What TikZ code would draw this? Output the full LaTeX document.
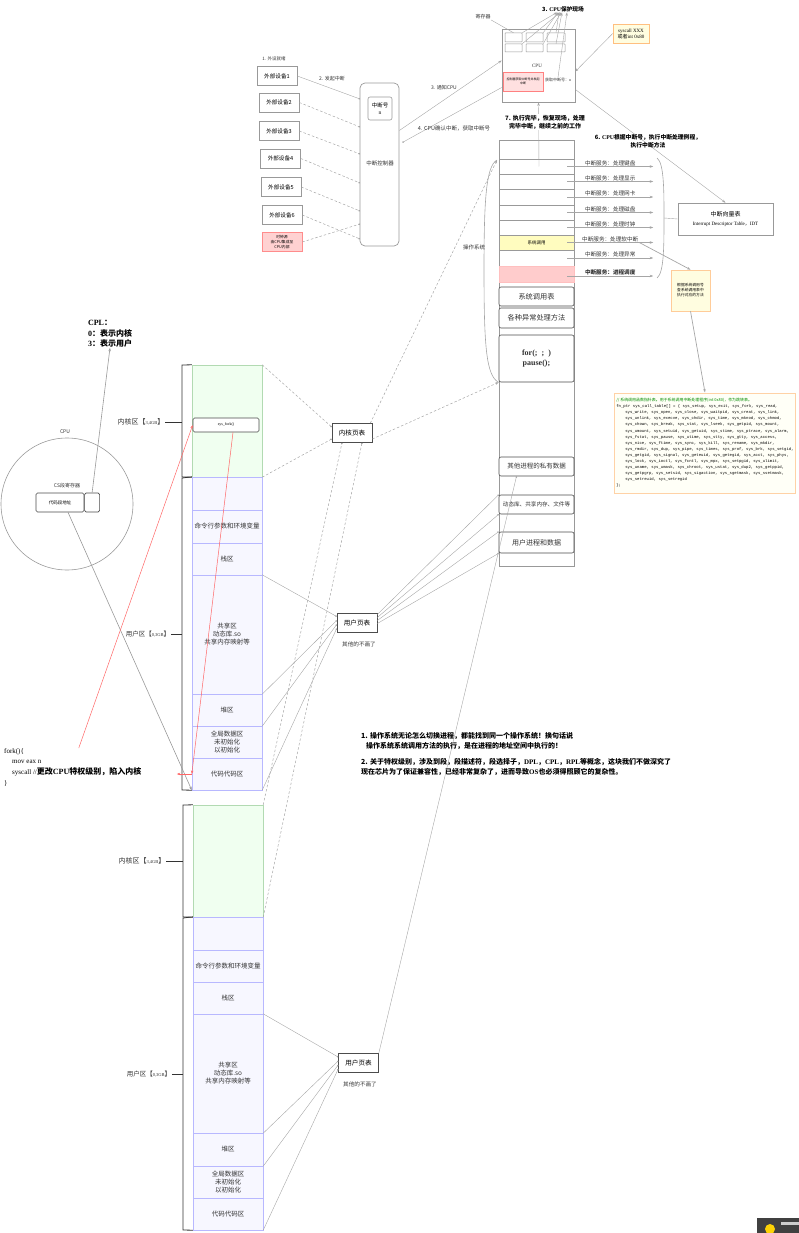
\documentclass[tikz,border=0pt]{standalone}
\usepackage{fontspec}
\setmainfont{Noto Sans CJK SC}
\newfontfamily\lserif{Liberation Serif}
\newfontfamily\lmono{Liberation Mono}
\usetikzlibrary{arrows.meta}
\newcommand\fsz[2]{\fontsize{#1}{#2}\selectfont}

\begin{document}
\begin{tikzpicture}[x=1pt,y=-1pt,
  box/.style={draw=gray!80,line width=0.6pt,fill=white,inner sep=1pt,align=center},
  dev/.style={box,minimum width=40pt,minimum height=19pt,font=\fsz{5.6}{6.5}},
  reg/.style={draw=gray!80,line width=0.5pt,fill=white,minimum height=8pt,inner sep=0pt,rounded corners=0.5pt},
  kzone/.style={draw=green!35!gray!45,fill=green!6,minimum width=70pt,inner sep=0pt},
  uzone/.style={draw=blue!28,fill=blue!3,minimum width=70pt,inner sep=0pt,align=center,text=black!80,font=\fsz{6.5}{8}},
  osrow/.style={draw=gray!80,fill=white,minimum width=75pt,inner sep=0pt,font=\fsz{4.5}{5}},
  osbox/.style={draw=black!70,line width=0.6pt,rounded corners=2pt,fill=white,minimum width=75pt,inner sep=0pt,align=center,text=black!80},
  ptab/.style={box,draw=black!70,minimum width=40pt,minimum height=19pt,font=\fsz{6.6}{7.5}},
  lbl/.style={inner sep=0.5pt,font=\fsz{4.5}{5.5},text=black!80,align=center},
  svclbl/.style={lbl,font=\fsz{5.6}{6.5}},
  thinl/.style={gray!70,line width=0.4pt},
  dashl/.style={gray!70,line width=0.5pt,dash pattern=on 2.5pt off 2pt},
  dotend/.style={-{Circle[length=1.6pt]}},
  arr/.style={-{Stealth[length=3.5pt,width=2.5pt]}},
  redl/.style={red!60,line width=0.5pt},
  svc/.style={thinl,arr}
]
\useasboundingbox (0,0) rectangle (799,1233);

% peripherals and interrupt controller
\node[lbl] (ready) at (274,59) {1. 外设就绪};
\node[dev] (dev1) at (277,76) {外部设备1};
\node[dev] (dev2) at (279,102.5) {外部设备2};
\node[dev] (dev3) at (279,131) {外部设备3};
\node[dev] (dev4) at (280.5,158.5) {外部设备4};
\node[dev] (dev5) at (281,187) {外部设备5};
\node[dev] (dev6) at (282,215) {外部设备6};
\node[dev,fill=red!18,draw=red!45,font=\fsz{3.8}{5.2}] (clk) at (282,242) {时钟源\\由CPU集成至\\CPU内部};
\node[draw=gray!80,line width=0.7pt,rounded corners=5pt,minimum width=39pt,minimum height=163pt] (ctrl) at (379.5,164.5) {};
\node[lbl,font=\fsz{5.5}{6.5}] (ctrlname) at (380,163) {中断控制器};
\node[box,rounded corners=2pt,minimum width=24pt,minimum height=23pt,font=\fsz{5.5}{7}] (irq) at (380,108.5) {中断号\\{\lserif n}};
\coordinate (in1) at (360,99);
\coordinate (in2) at (360,127);
\coordinate (in3) at (360,154);
\coordinate (in4) at (360,183);
\coordinate (in5) at (360,211);
\coordinate (in6) at (360,224);
\coordinate (in7) at (360,239);
\draw[thinl,dotend] (dev1.east) -- (in1);
\draw[dashl,dotend] (dev2.east) -- (in2);
\draw[dashl,dotend] (dev3.east) -- (in3);
\draw[dashl,dotend] (dev4.east) -- (in4);
\draw[dashl,dotend] (dev5.east) -- (in5);
\draw[dashl,dotend] (dev6.east) -- (in7);
\draw[dashl,dotend] (clk.east) -- (in6);
\node[lbl,font=\fsz{5}{6}] (raise) at (332,79) {2. 发起中断};

% CPU
\node[draw=gray!80,line width=0.7pt,minimum width=73pt,minimum height=73pt] (cpu) at (538.5,65.5) {};
\node[inner sep=0pt,font=\lserif\fsz{5}{6},text=black!80] (cpuname) at (537,66) {CPU};
\node[reg,minimum width=17pt,minimum height=9pt] (r11) at (513.5,37.5) {};
\node[reg,minimum width=17pt,minimum height=9pt] (r12) at (534.5,37.5) {};
\node[reg,minimum width=18pt,minimum height=9pt] (r13) at (556,37.5) {};
\node[reg,minimum width=17pt] (r21) at (513.5,48) {};
\node[reg,minimum width=17pt] (r22) at (534.5,48) {};
\node[reg,minimum width=18pt] (r23) at (556,48) {};
\node[draw=red!50,fill=red!12,line width=0.6pt,minimum width=40pt,minimum height=19pt,inner sep=0.5pt,align=center,font=\fsz{3}{4}] (fetch) at (523,81.5) {控制器获取中断号并发起\\中断};
\node[lbl,font=\fsz{4}{5}] (intno) at (558,80) {获取中断号：{\lserif n}};
\node[lbl,font=\fsz{5}{6}] (reglbl) at (483,17) {寄存器};
\draw[thinl] (reglbl.south east) -- (r11.north);
\node[inner sep=0.5pt,font=\bfseries\fsz{5.7}{7}] (save) at (563,9) {3. {\lserif CPU}保护现场};
\draw[thinl,arr] (r11.north east) -- ([xshift=-6pt]save.south);
\draw[thinl,arr] (r12.north east) -- ([xshift=-5pt]save.south);
\draw[thinl,arr] (r13.north) -- ([xshift=-4pt]save.south);
\draw[thinl,arr] (r21.north east) -- ([xshift=-3pt]save.south);
\draw[thinl,arr] (r22.north east) -- ([xshift=-2pt]save.south);
\draw[thinl,arr] (r23.north) -- ([xshift=-1pt]save.south);
\draw[thinl,arr] (intno.north) -- ([xshift=4pt]save.south);
\node[box,draw=orange!50,fill=yellow!12,minimum width=36pt,minimum height=19pt,font=\lserif\fsz{5}{6}] (sysc) at (631,33.5) {syscall XXX\\{\normalfont 或者}int 0x80};
\draw[thinl,arr] (sysc.west) -- ([yshift=-6pt]cpu.east);
\draw[thinl,arr] ([yshift=34pt]ctrl.east) -- ([yshift=5pt]cpu.west);
\node[lbl,font=\fsz{5}{6}] (notify) at (444,88) {3. 通知CPU};
\draw[thinl,dotend] ([yshift=-22pt]cpu.west) -- ([xshift=3pt,yshift=22pt]ctrl.east);
\node[lbl,font=\fsz{5.5}{6.5}] (ack) at (454,128) {4. CPU确认中断，获取中断号};

% OS memory column
\node[draw=gray!80,line width=0.7pt,minimum width=75pt,minimum height=426pt,inner sep=0pt] (oscol) at (536.5,353) {};
\node[osrow,minimum height=19pt] (r0) at (536.5,149.5) {};
\node[osrow,minimum height=15pt] (q1) at (536.5,166.5) {};
\node[osrow,minimum height=15pt] (q2) at (536.5,181.5) {};
\node[osrow,minimum height=16pt] (q3) at (536.5,197) {};
\node[osrow,minimum height=15pt] (q4) at (536.5,212.5) {};
\node[osrow,minimum height=15pt] (q5) at (536.5,227.5) {};
\node[osrow,minimum height=15pt,fill=yellow!25] (q6) at (536.5,242.5) {系统调用};
\node[osrow,minimum height=16pt] (q7) at (536.5,258) {};
\node[osrow,minimum height=16pt,fill=red!20,draw=red!25] (q8) at (536.5,274) {};
\node[osbox,minimum height=19pt,font=\fsz{7.2}{8}] (calltab) at (536.5,296.5) {系统调用表};
\node[osbox,minimum height=20pt,font=\fsz{7.2}{8}] (excp) at (536.5,318) {各种异常处理方法};
\node[osbox,minimum height=47pt,font=\lserif\bfseries\fsz{8}{10}] (loop) at (536.5,358.5) {for(;\ \ ;\ \ )\\pause();};
\node[osbox,minimum height=19pt,font=\fsz{6.5}{7.5}] (priv) at (536.5,466.5) {其他进程的私有数据};
\node[osbox,minimum height=19pt,font=\fsz{5.6}{6.5}] (shlib) at (536.5,504.5) {动态库、共享内存、文件等};
\node[osbox,minimum height=21pt,font=\fsz{7}{8}] (uproc) at (536.5,542.5) {用户进程和数据};
\draw[thinl,arr] ([xshift=2.5pt]q1.center) -- (cpu.south);
\node[inner sep=0.5pt,fill=white,font=\bfseries\fsz{6}{8},align=center] (done) at (545,122) {7. 执行完毕，恢复现场，处理\\完毕中断，继续之前的工作};

% interrupt services
\draw[svc] ([xshift=-7pt]q1.east) -- ++(86,0) node[svclbl,midway,yshift=3.5pt] (s1) {中断服务：处理键盘};
\draw[svc] ([xshift=-7pt]q2.east) -- ++(86,0) node[svclbl,midway,yshift=3.5pt] (s2) {中断服务：处理显示};
\draw[svc] ([xshift=-7pt]q3.east) -- ++(86,0) node[svclbl,midway,yshift=3.5pt] (s3) {中断服务：处理网卡};
\draw[svc] ([xshift=-7pt]q4.east) -- ++(86,0) node[svclbl,midway,yshift=3.5pt] (s4) {中断服务：处理磁盘};
\draw[svc] ([xshift=-7pt]q5.east) -- ++(86,0) node[svclbl,midway,yshift=3.5pt] (s5) {中断服务：处理时钟};
\draw[svc] ([xshift=-7pt]q6.east) -- ++(86,0) node[svclbl,midway,yshift=3.5pt] (s6) {中断服务：处理软中断};
\draw[svc] ([xshift=-7pt]q7.east) -- ++(86,0) node[svclbl,midway,yshift=3.5pt] (s7) {中断服务：处理异常};
\draw[svc] ([xshift=-7pt,yshift=-2pt]q8.east) -- ++(86,0) node[svclbl,midway,yshift=3.5pt,font=\bfseries\fsz{5.6}{6.5}] (s8) {中断服务：进程调度};
\coordinate (brtop) at (657,158);
\coordinate (brmid) at (664,218);
\coordinate (brbot) at (657,278);
\draw[thinl,line width=0.6pt] (brtop) .. controls (664,163) and (664,190) .. (brmid) .. controls (664,246) and (664,273) .. (brbot);
\node[box,minimum width=95pt,minimum height=32pt,font=\fsz{6}{9}] (idt) at (725.5,219) {中断向量表\\{\lserif\fsz{5}{6}Interrupt Descriptor Table}{\fsz{5}{6}，}{\lserif\fsz{5}{6}IDT}};
\draw[thinl] (brmid) -- (idt.west);
\draw[thinl,arr] ([yshift=-24pt]cpu.east) -- (idt.north);
\node[inner sep=0.5pt,font=\bfseries\fsz{5.8}{8},align=center] (step6) at (648,141) {6. {\lserif CPU}根据中断号，执行中断处理例程，\\执行中断方法};
\node[box,draw=orange!40,fill=yellow!12,minimum width=39pt,minimum height=41pt,font=\fsz{3.8}{5}] (lookup) at (690.5,290.5) {根据系统调用号\\查系统调用表中\\执行对应的方法};
\draw[thinl,line width=0.7pt,arr] (s6.south east) -- (lookup.north);
\node[draw=orange!35,line width=1pt,fill=yellow!3,minimum width=180pt,minimum height=100pt,inner sep=2pt,align=left,font=\lmono\fsz{3.95}{6.1}] (systab) at (705,443) {%
{\normalfont\color{green!55!black}// 系统调用函数指针表。用于系统调用中断处理程序(int 0x80)，作为跳转表。}\\
fn\_ptr sys\_call\_table[] = \{ sys\_setup, sys\_exit, sys\_fork, sys\_read,\\
\hspace*{9pt}sys\_write, sys\_open, sys\_close, sys\_waitpid, sys\_creat, sys\_link,\\
\hspace*{9pt}sys\_unlink, sys\_execve, sys\_chdir, sys\_time, sys\_mknod, sys\_chmod,\\
\hspace*{9pt}sys\_chown, sys\_break, sys\_stat, sys\_lseek, sys\_getpid, sys\_mount,\\
\hspace*{9pt}sys\_umount, sys\_setuid, sys\_getuid, sys\_stime, sys\_ptrace, sys\_alarm,\\
\hspace*{9pt}sys\_fstat, sys\_pause, sys\_utime, sys\_stty, sys\_gtty, sys\_access,\\
\hspace*{9pt}sys\_nice, sys\_ftime, sys\_sync, sys\_kill, sys\_rename, sys\_mkdir,\\
\hspace*{9pt}sys\_rmdir, sys\_dup, sys\_pipe, sys\_times, sys\_prof, sys\_brk, sys\_setgid,\\
\hspace*{9pt}sys\_getgid, sys\_signal, sys\_geteuid, sys\_getegid, sys\_acct, sys\_phys,\\
\hspace*{9pt}sys\_lock, sys\_ioctl, sys\_fcntl, sys\_mpx, sys\_setpgid, sys\_ulimit,\\
\hspace*{9pt}sys\_uname, sys\_umask, sys\_chroot, sys\_ustat, sys\_dup2, sys\_getppid,\\
\hspace*{9pt}sys\_getpgrp, sys\_setsid, sys\_sigaction, sys\_sgetmask, sys\_ssetmask,\\
\hspace*{9pt}sys\_setreuid, sys\_setregid\\
\};};
\draw[thinl,line width=0.7pt,arr] (lookup.south) -- (systab.north);
\coordinate (ostop) at (497,160);
\draw[thinl,line width=0.6pt] (ostop) .. controls (486,166) and (484,200) .. (484,270) .. controls (484,345) and (486,376) .. (loop.south west);
\node[lbl,font=\fsz{5.5}{6.5}] (oslbl) at (474,247) {操作系统};

% CPU circle and CS register
\node[inner sep=0pt,font=\bfseries\fsz{8}{10.5},align=left] (cpl) at (110,334) {{\lserif CPL}：\\{\lserif 0}：表示内核\\{\lserif 3}：表示用户};
\node[draw=gray!80,line width=0.6pt,circle,minimum size=132pt,inner sep=0pt] (cpucirc) at (67,504) {};
\node[lbl,font=\itshape\fsz{5}{6}] (cpucap) at (65,432) {CPU};
\node[lbl,font=\fsz{5}{6}] (cslbl) at (67,486) {CS段寄存器};
\node[box,draw=black!70,rounded corners=1.5pt,minimum width=48pt,minimum height=19pt,font=\fsz{4.5}{5.5}] (cs) at (60,502.5) {代码段地址};
\node[box,draw=black!70,rounded corners=1.5pt,minimum width=15pt,minimum height=19pt,anchor=west] (cplfield) at (cs.east) {};
\draw[gray!80,line width=0.6pt,arr] (cplfield.north) -- (cpl.south);

% address space 1
\node[kzone,minimum height=112pt] (k1) at (227,421) {};
\node[box,draw=black!70,rounded corners=1.5pt,minimum width=66pt,minimum height=14pt,font=\lserif\fsz{4}{4.5}] (sysfork) at (226,425) {sys\_fork()};
\node[uzone,minimum height=33pt] (blank1) at (227,493.5) {};
\node[uzone,minimum height=33pt] (cmd1) at (227,526.5) {命令行参数和环境变量};
\node[uzone,minimum height=32pt] (stack1) at (227,559) {栈区};
\node[uzone,minimum height=119pt] (share1) at (227,634.5) {共享区\\动态库.so\\共享内存映射等};
\node[uzone,minimum height=32pt] (heap1) at (227,710) {堆区};
\node[uzone,minimum height=32pt] (data1) at (227,742) {全局数据区\\未初始化\\以初始化};
\node[uzone,minimum height=32pt] (code1) at (227,774) {代码代码区};
\draw[black!80,line width=0.8pt] (k1.north west) -- (182,365) -- (182,477) -- (k1.south west);
\draw[black!80,line width=0.8pt] (blank1.north west) -- (182,478) -- (182,790) -- (code1.south west);
\node[lbl,font=\fsz{7}{8}] (klbl1) at (141,422) {内核区【{\lserif\fsz{4.5}{5}3,4GB}】};
\draw[black!80,line width=0.6pt] (klbl1.east) -- (182,422);
\node[lbl,font=\fsz{6.5}{8}] (ulbl1) at (148,634) {用户区【{\lserif\fsz{4.5}{5}0,3GB}】};
\draw[black!80,line width=0.6pt] (ulbl1.east) -- (182,634);

% address space 2
\node[kzone,minimum height=112pt] (k2) at (228,861) {};
\node[uzone,minimum height=33pt] (blank2) at (228,933.5) {};
\node[uzone,minimum height=32pt] (cmd2) at (228,966) {命令行参数和环境变量};
\node[uzone,minimum height=32pt] (stack2) at (228,998) {栈区};
\node[uzone,minimum height=119pt] (share2) at (228,1073.5) {共享区\\动态库.so\\共享内存映射等};
\node[uzone,minimum height=33pt] (heap2) at (228,1149.5) {堆区};
\node[uzone,minimum height=32pt] (data2) at (228,1182) {全局数据区\\未初始化\\以初始化};
\node[uzone,minimum height=32pt] (code2) at (228,1214) {代码代码区};
\draw[black!80,line width=0.8pt] (k2.north west) -- (183,805) -- (183,917) -- (k2.south west);
\draw[black!80,line width=0.8pt] (blank2.north west) -- (183,918) -- (183,1230) -- (code2.south west);
\node[lbl,font=\fsz{7}{8}] (klbl2) at (142,861) {内核区【{\lserif\fsz{4.5}{5}3,4GB}】};
\draw[black!80,line width=0.6pt] (klbl2.east) -- (183,861);
\node[lbl,font=\fsz{6.5}{8}] (ulbl2) at (149,1074) {用户区【{\lserif\fsz{4.5}{5}0,3GB}】};
\draw[black!80,line width=0.6pt] (ulbl2.east) -- (183,1074);

% page tables
\node[ptab] (kpt) at (352,433) {内核页表};
\draw[dashl,dotend] (k1.north east) -- ([yshift=6pt]kpt.west);
\draw[dashl,dotend] (k1.south east) -- ([yshift=-6pt]kpt.west);
\draw[dashl,arr] ([xshift=-2pt]kpt.north east) -- (ostop);
\draw[dashl,arr] ([yshift=-6pt]kpt.east) -- (loop.south west);
\draw[dashl,dotend] (k2.north east) -- ([xshift=-10pt]kpt.south);
\draw[dashl,dotend] (k2.south east) -- ([xshift=10pt]kpt.south);
\node[ptab] (upt1) at (357,622.5) {用户页表};
\node[lbl,font=\fsz{5.6}{6.5}] (skip1) at (359,644) {其他的不画了};
\draw[thinl,dotend] (share1.north east) -- ([yshift=6pt]upt1.west);
\draw[thinl,dotend] (share1.south east) -- ([yshift=2pt]upt1.west);
\draw[thinl,dotend] (heap1.south east) -- ([yshift=-2pt]upt1.west);
\draw[thinl,dotend] (code1.south east) -- ([yshift=-6pt]upt1.west);
\draw[thinl,dotend] ([yshift=8pt]upt1.east) -- (shlib.north west);
\draw[thinl,dotend] ([yshift=5pt]upt1.east) -- (shlib.south west);
\draw[thinl,dotend] ([yshift=2pt]upt1.east) -- (uproc.north west);
\draw[thinl,dotend] ([yshift=-1pt]upt1.east) -- (uproc.south west);
\node[ptab] (upt2) at (358.5,1063) {用户页表};
\node[lbl,font=\fsz{5.6}{6.5}] (skip2) at (360,1084) {其他的不画了};
\draw[thinl,dotend] (share2.north east) -- ([yshift=6pt]upt2.west);
\draw[thinl,dotend] (share2.south east) -- ([yshift=2pt]upt2.west);
\draw[thinl,dotend] (heap2.south east) -- ([yshift=-2pt]upt2.west);
\draw[thinl,dotend] (code2.south east) -- ([yshift=-6pt]upt2.west);
\draw[thinl,dotend] (upt2.north east) -- ([xshift=-20pt]priv.south);

% fork code and privilege switch
\node[anchor=north west,align=left,inner sep=0pt,font=\lserif\fsz{7}{10.8}] (fork) at (4,748) {fork()\{\\\hspace*{8pt}mov eax n\\\hspace*{8pt}syscall //{\normalfont\bfseries\fsz{8}{10.8}更改{\lserif CPU}特权级别，陷入内核}\\\}};
\draw[gray!80,line width=0.6pt,arr] ([xshift=8pt]cs.south) -- (code1.south west);
\draw[redl,arr] ([xshift=6pt]fork.north) -- (sysfork.west);
\draw[redl,arr] ([xshift=7pt]sysfork.south) -- (code1.west);
\draw[redl,arr] (code1.west) -- ++(-15,0);

% notes
\node[anchor=north west,align=left,inner sep=0pt,font=\bfseries\fsz{7}{10.5}] (note1) at (361,732) {1. 操作系统无论怎么切换进程，都能找到同一个操作系统！换句话说\\\hspace*{5pt}操作系统系统调用方法的执行，是在进程的地址空间中执行的！};
\node[anchor=north west,align=left,inner sep=0pt,font=\bfseries\fsz{7}{10}] (note2) at (361,758) {2. 关于特权级别，涉及到段，段描述符，段选择子，{\lserif DPL}，{\lserif CPL}，{\lserif RPL}等概念，这块我们不做深究了\\现在芯片为了保证兼容性，已经非常复杂了，进而导致{\lserif OS}也必须得照顾它的复杂性。};

% corner widget
\fill[black!75] (757,1218) rectangle (799,1233);
\fill[yellow!70!orange] (770,1229) circle (5);
\fill[gray!40] (781,1222) rectangle (799,1225);
\end{tikzpicture}
\end{document}
